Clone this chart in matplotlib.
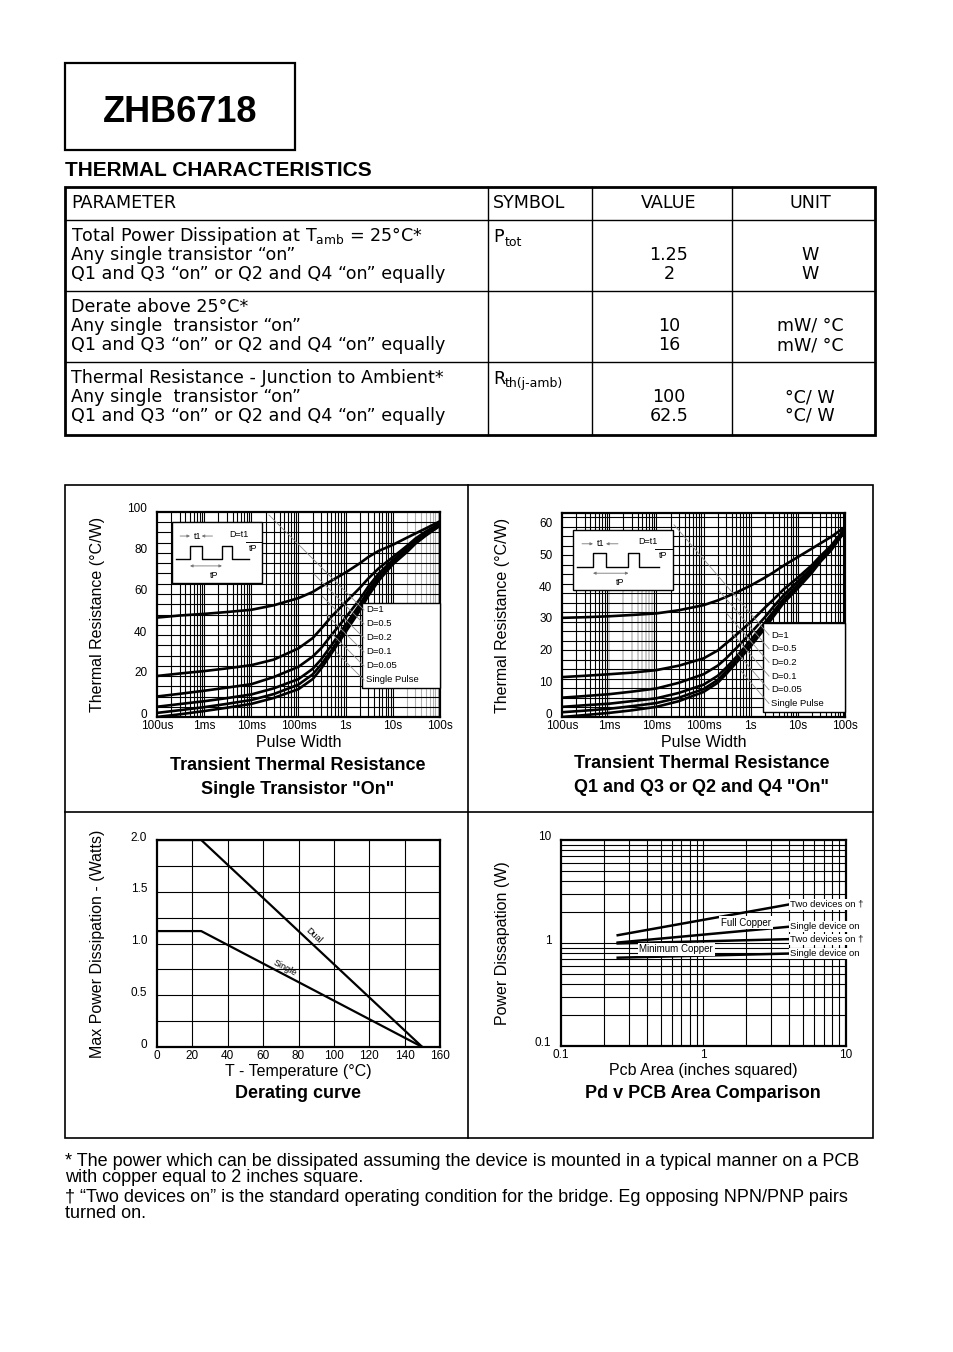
import numpy as np
import matplotlib
matplotlib.use('Agg')
import matplotlib.pyplot as plt
from matplotlib.patches import Rectangle
from matplotlib.transforms import ScaledTranslation

W, H = 954, 1352

# ---------------- table data ----------------
table_header = ['PARAMETER', 'SYMBOL', 'VALUE', 'UNIT']
param_lines = [
    ['Total Power Dissipation at T$_\\mathregular{amb}$ = 25°C*',
     'Any single transistor “on”',
     'Q1 and Q3 “on” or Q2 and Q4 “on” equally'],
    ['Derate above 25°C*',
     'Any single  transistor “on”',
     'Q1 and Q3 “on” or Q2 and Q4 “on” equally'],
    ['Thermal Resistance - Junction to Ambient*',
     'Any single  transistor “on”',
     'Q1 and Q3 “on” or Q2 and Q4 “on” equally'],
]
symbols = [('P', 'tot'), None, ('R', 'th(j-amb)')]
values = [['1.25', '2'], ['10', '16'], ['100', '62.5']]
units = [['W', 'W'], ['mW/ °C', 'mW/ °C'], ['°C/ W', '°C/ W']]

# ---------------- transient thermal resistance ----------------
pulse_width = [1e-4, 3e-4, 1e-3, 3e-3, 1e-2, 3e-2, 0.1, 0.2, 0.3, 0.5,
               1, 2, 3, 5, 10, 20, 30, 50, 100]
duty_labels = ['D=1', 'D=0.5', 'D=0.2', 'D=0.1', 'D=0.05', 'Single Pulse']

zth_single = [
    [48.5, 49.5, 50.3, 51.2, 52.3, 54.5, 58, 61, 63.5, 66.5, 70.5, 75, 78, 81, 84, 87.5, 89.5, 92, 95.5],
    [20, 21.2, 22.4, 23.7, 25.3, 28, 33.5, 38.5, 43, 49, 56, 63, 67.5, 72.5, 78, 83.5, 87, 90.5, 94.5],
    [10, 11.3, 12.8, 14.3, 16, 19.5, 24.5, 29.5, 33.5, 40, 48.5, 57.5, 63.5, 70, 76.5, 82.5, 86, 89.5, 94],
    [5, 6.3, 7.7, 9.2, 11, 14, 18.5, 23.5, 28, 35, 45, 55, 61.5, 68.5, 75.5, 81.5, 85.5, 89, 93.7],
    [2, 3.3, 4.8, 6.4, 8.3, 11.2, 15.8, 20.8, 25.5, 32.5, 43, 53.5, 60, 67.5, 74.8, 81, 85, 88.8, 93.5],
    [0, 1.3, 2.9, 4.5, 6.4, 9.3, 13.6, 18.5, 23.5, 31, 41.5, 52, 59, 66.5, 74.5, 80.5, 84.5, 88.5, 93.3],
]
zth_dual = [
    [31.3, 31.5, 31.8, 32.2, 32.7, 33.7, 35.3, 36.8, 37.9, 39.3, 41.5, 44, 45.6, 47.8, 50.5, 53.2, 54.8, 56.8, 60],
    [12.6, 13, 13.5, 14, 14.8, 16.2, 18.5, 21, 23.2, 26, 30, 34.5, 37, 40.3, 44, 48, 50.8, 54, 59.5],
    [6.1, 6.6, 7.2, 8, 9, 10.8, 13.5, 16.2, 18.5, 21.8, 26.5, 31.5, 34.7, 38.5, 42.8, 47.2, 50.2, 53.5, 59.2],
    [3.2, 3.7, 4.2, 5, 5.9, 7.6, 10.2, 13, 15.5, 19, 24.3, 29.8, 33.2, 37.3, 41.8, 46.5, 49.6, 53, 59],
    [1.5, 2, 2.6, 3.4, 4.4, 6.1, 8.8, 11.7, 14.4, 18, 23.2, 28.7, 32.3, 36.6, 41.2, 46, 49.3, 52.8, 58.8],
    [0, 0.6, 1.3, 2.1, 3.2, 5, 7.9, 10.8, 13.5, 17.2, 22.3, 28, 31.6, 36, 40.6, 45.6, 49, 52.5, 58.7],
]
time_ticks = [1e-4, 1e-3, 1e-2, 0.1, 1, 10, 100]
time_labels = ['100us', '1ms', '10ms', '100ms', '1s', '10s', '100s']

# ---------------- derating ----------------
temp = [0, 25, 150]
pd_dual = [2.0, 2.0, 0]
pd_single = [1.12, 1.12, 0]

# ---------------- pcb area ----------------
pcb_area = [0.25, 4]
pd_two_full = [1.19, 2.37]
pd_single_full = [1.01, 1.44]
pd_two_min = [0.99, 1.09]
pd_single_min = [0.72, 0.79]
pcb_labels = ['Two devices on †', 'Single device on', 'Two devices on †', 'Single device on']

footnotes = [
    '* The power which can be dissipated assuming the device is mounted in a typical manner on a PCB',
    'with copper equal to 2 inches square.',
    '† “Two devices on” is the standard operating condition for the bridge. Eg opposing NPN/PNP pairs',
    'turned on.',
]

SANS = 'Liberation Sans'
TABLE = 'DejaVu Sans'
plt.rcParams['font.family'] = [SANS, 'DejaVu Sans']
plt.rcParams['mathtext.fontset'] = 'dejavusans'

fig = plt.figure(figsize=(W / 100, H / 100), dpi=100)

page = fig.add_axes([0, 0, 1, 1])
page.set_xlim(0, W)
page.set_ylim(H, 0)
page.axis('off')


def px_axes(x0, y0, x1, y1):
    return fig.add_axes([x0 / W, 1 - y1 / H, (x1 - x0) / W, (y1 - y0) / H])


# header
page.add_patch(Rectangle((65, 63), 230, 87, fill=False, lw=1.6, ec='black'))
page.text(180, 112, 'ZHB6718', fontsize=26, fontweight='bold', ha='center', va='center')
page.text(65, 171, 'THERMAL CHARACTERISTICS', fontsize=15, fontweight='bold',
          ha='left', va='center')

# table
tx0, tx1, ty0, ty1 = 65, 875, 187, 435
col_x = [488, 592, 732]
row_y = [220, 291, 362]
page.add_patch(Rectangle((tx0, ty0), tx1 - tx0, ty1 - ty0, fill=False, lw=2, ec='black'))
for cx in col_x:
    page.plot([cx, cx], [ty0, ty1], color='black', lw=1)
for ry in row_y:
    page.plot([tx0, tx1], [ry, ry], color='black', lw=1)

tfs = 12.6
page.text(71, 203, table_header[0], fontsize=tfs, family=TABLE, va='center')
page.text(493, 203, table_header[1], fontsize=tfs, family=TABLE, va='center')
page.text(669, 203, table_header[2], fontsize=tfs, family=TABLE, va='center', ha='center')
page.text(810, 203, table_header[3], fontsize=tfs, family=TABLE, va='center', ha='center')
for i in range(3):
    top = row_y[i]
    for j, line in enumerate(param_lines[i]):
        page.text(71, top + 16 + 19 * j, line, fontsize=tfs, family=TABLE, va='center')
    if symbols[i]:
        big, sub = symbols[i]
        page.text(493, top + 17, big, fontsize=tfs, family=TABLE, va='center')
        page.text(505, top + 22, sub, fontsize=9, family=TABLE, va='center')
    for j in range(2):
        page.text(669, top + 35 + 19 * j, values[i][j], fontsize=tfs, family=TABLE,
                  va='center', ha='center')
        page.text(810, top + 35 + 19 * j, units[i][j], fontsize=tfs, family=TABLE,
                  va='center', ha='center')

# chart panel frame
page.add_patch(Rectangle((65, 485), 808, 653, fill=False, lw=1.2, ec='black'))
page.plot([468, 468], [485, 1138], color='black', lw=1.2)
page.plot([65, 873], [812, 812], color='black', lw=1.2)

# footnotes
for txt, yy in zip(footnotes, [1161, 1177, 1198, 1214]):
    page.text(65, yy, txt, fontsize=13, va='center')


def style_axes(ax):
    for s in ax.spines.values():
        s.set_linewidth(1.6)
        s.set_zorder(5)
    ax.tick_params(which='both', length=0, labelsize=8.5, pad=2)
    ax.tick_params(axis='y', pad=7)
    for lab in ax.get_yticklabels():
        lab.set_transform(lab.get_transform() + ScaledTranslation(0, 4 / 100, fig.dpi_scale_trans))


def log_lines(lo, hi):
    out = []
    for e in range(lo, hi):
        for m in range(2, 10):
            out.append(m * 10.0 ** e)
        if e > lo:
            out.append(10.0 ** e)
    return out


def transient_chart(box, curves, ymax, ystep, yticks, grey_from, grey_band=None):
    ax = px_axes(*box)
    ax.set_xscale('log')
    ax.set_xlim(1e-4, 100)
    ax.set_ylim(0, ymax)
    for v in log_lines(-4, 2):
        if v > grey_from:
            ax.axvline(v, color='#b0b0b0', lw=0.8, zorder=1)
        elif grey_band and grey_band[0] <= v <= grey_band[1]:
            ax.plot([v, v], [0, grey_band[2]], color='#c4c4c4', lw=1.2, zorder=1)
            ax.plot([v, v], [grey_band[2], ymax], color='black', lw=0.8, zorder=1)
        else:
            ax.axvline(v, color='black', lw=0.8, zorder=1)
    for h in np.arange(ystep, ymax, ystep):
        ax.axhline(h, color='black', lw=0.8, zorder=1)
    for ys in curves:
        ax.plot(pulse_width, ys, color='black', lw=1.9, zorder=3)
    ax.set_xticks(time_ticks)
    ax.set_xticklabels(time_labels)
    ax.set_yticks(yticks)
    ax.set_yticklabels([str(t) for t in yticks])
    ax.minorticks_off()
    style_axes(ax)
    ax.set_ylabel('Thermal Resistance (°C/W)', fontsize=11.5)
    ax.yaxis.set_label_coords(-0.212, 0.5)
    ax.yaxis.label.set_va('center')
    ax.set_xlabel('Pulse Width', fontsize=11.5)
    ax.xaxis.set_label_coords(0.5, -0.125)
    ax.xaxis.label.set_va('center')
    return ax


ax1 = transient_chart((157, 512, 440, 717), zth_single, 100, 5, [0, 20, 40, 60, 80, 100], 15)
ax2 = transient_chart((562, 513, 845, 717), zth_dual, 64.4, 3, [0, 10, 20, 30, 40, 50, 60], 1e3,
                      grey_band=(1e-3, 9e-3, 40))

# derating curve
ax3 = px_axes(157, 840, 440, 1047)
ax3.set_xlim(0, 160)
ax3.set_ylim(0, 2.0)
for v in range(20, 160, 20):
    ax3.axvline(v, color='black', lw=0.8, zorder=1)
for h in np.arange(0.25, 2.0, 0.25):
    ax3.axhline(h, color='black', lw=0.8, zorder=1)
ax3.plot(temp, pd_dual, color='black', lw=1.6, zorder=3)
ax3.plot(temp, pd_single, color='black', lw=1.6, zorder=3)
ax3.set_xticks(range(0, 161, 20))
ax3.set_yticks([0, 0.5, 1.0, 1.5, 2.0])
ax3.set_yticklabels(['0', '0.5', '1.0', '1.5', '2.0'])
style_axes(ax3)
ax3.text(88.5, 1.08, 'Dual', fontsize=6.5, rotation=-43, ha='center', va='center', zorder=4)
ax3.text(72.5, 0.76, 'Single', fontsize=6.5, rotation=-28, ha='center', va='center', zorder=4)
ax3.set_ylabel('Max Power Dissipation - (Watts)', fontsize=11.5)
ax3.yaxis.set_label_coords(-0.212, 0.5)
ax3.yaxis.label.set_va('center')
ax3.set_xlabel('T - Temperature (°C)', fontsize=11.5)
ax3.xaxis.set_label_coords(0.5, -0.116)
ax3.xaxis.label.set_va('center')

# pd v pcb area
ax4 = px_axes(561, 840, 846, 1046)
ax4.set_xscale('log')
ax4.set_yscale('log')
ax4.set_xlim(0.1, 10)
ax4.set_ylim(0.1, 10)
for v in log_lines(-1, 1):
    ax4.axvline(v, color='black', lw=0.8, zorder=1)
    ax4.axhline(v, color='black', lw=0.8, zorder=1)
for ys in [pd_two_full, pd_single_full, pd_two_min, pd_single_min]:
    ax4.plot(pcb_area, ys, color='black', lw=1.8, zorder=3)
for lab, ys in zip(pcb_labels, [pd_two_full, pd_single_full, pd_two_min, pd_single_min]):
    ax4.text(4.05, ys[-1], lab, fontsize=6.8, ha='left', va='center', zorder=6, clip_on=False,
             bbox=dict(boxstyle='square,pad=0.12', fc='white', ec='none'))
ax4.text(2.0, 1.58, 'Full Copper', fontsize=7, ha='center', va='center', zorder=4,
         bbox=dict(boxstyle='square,pad=0.2', fc='white', ec='none'))
ax4.text(0.645, 0.865, 'Minimum Copper', fontsize=7, ha='center', va='center', zorder=4,
         bbox=dict(boxstyle='square,pad=0.2', fc='white', ec='none'))
ax4.set_xticks([0.1, 1, 10])
ax4.set_xticklabels(['0.1', '1', '10'])
ax4.set_yticks([0.1, 1, 10])
ax4.set_yticklabels(['0.1', '1', '10'])
ax4.minorticks_off()
style_axes(ax4)
ax4.set_ylabel('Power Dissapation (W)', fontsize=11.5)
ax4.yaxis.set_label_coords(-0.207, 0.5)
ax4.yaxis.label.set_va('center')
ax4.set_xlabel('Pcb Area (inches squared)', fontsize=11.5)
ax4.xaxis.set_label_coords(0.5, -0.121)
ax4.xaxis.label.set_va('center')

# overlay for inset boxes and titles
over = fig.add_axes([0, 0, 1, 1])
over.set_xlim(0, W)
over.set_ylim(H, 0)
over.axis('off')


def pulse_box(x0, y0, x1, y1):
    over.add_patch(Rectangle((x0, y0), x1 - x0, y1 - y0, fc='white', ec='black', lw=1, zorder=2))

    def P(u, v):
        return x0 + u * (x1 - x0), y1 - v * (y1 - y0)
    wave = [(0.045, 0.39), (0.2, 0.39), (0.2, 0.61), (0.33, 0.61), (0.33, 0.39),
            (0.555, 0.39), (0.555, 0.61), (0.665, 0.61), (0.665, 0.39), (0.86, 0.39)]
    xs, ys = zip(*[P(u, v) for u, v in wave])
    over.plot(xs, ys, color='black', lw=1, zorder=3)
    g = '#777777'
    for a, b in [((0.09, 0.77), (0.2, 0.77)), ((0.45, 0.77), (0.33, 0.77))]:
        over.annotate('', xy=P(*b), xytext=P(*a), zorder=3,
                      arrowprops=dict(arrowstyle='-|>', color=g, lw=0.6, shrinkA=0, shrinkB=0,
                                      mutation_scale=4))
    over.annotate('', xy=P(0.555, 0.28), xytext=P(0.2, 0.28), zorder=3,
                  arrowprops=dict(arrowstyle='<|-|>', color=g, lw=0.6, shrinkA=0, shrinkB=0,
                                  mutation_scale=4))
    over.text(*P(0.28, 0.77), 't1', fontsize=6.5, ha='center', va='center', zorder=3)
    over.text(*P(0.745, 0.8), 'D=t1', fontsize=6.5, ha='center', va='center', zorder=3)
    xa, ya = P(0.82, 0.68)
    xb, _ = P(1.0, 0.68)
    over.plot([xa, xb], [ya, ya], color='black', lw=0.7, zorder=3)
    over.text(*P(0.9, 0.57), 'tP', fontsize=6.5, ha='center', va='center', zorder=3)
    over.text(*P(0.47, 0.13), 'tP', fontsize=6.5, ha='center', va='center', zorder=3)


def duty_legend(x0, y0, x1, y1, lx, ly0, step, lead, slope):
    over.add_patch(Rectangle((x0, y0), x1 - x0, y1 - y0, fc='white', ec='black', lw=1, zorder=2))
    for i, lab in enumerate(duty_labels):
        ly = ly0 + i * step
        over.plot([lx - 2 - lead[i], lx - 2], [ly - lead[i] * slope, ly], color='#8c8c8c',
                  lw=0.6, zorder=3)
        over.text(lx, ly, lab, fontsize=6.8, ha='left', va='center', zorder=3)


pulse_box(172, 522, 262, 583)
pulse_box(573, 530, 673, 590)
duty_legend(362, 603, 440, 688, 366, 610, 14, [95, 50, 42, 38, 32, 28], 1.0)
duty_legend(763, 623, 845, 712, 771, 635, 13.7, [95, 50, 42, 38, 32, 28], 1.16)

tt = dict(fontsize=13, fontweight='bold', ha='center', va='center')
over.text(298, 765, 'Transient Thermal Resistance', **tt)
over.text(298, 789, 'Single Transistor "On"', **tt)
over.text(702, 764, 'Transient Thermal Resistance', **tt)
over.text(702, 788, 'Q1 and Q3 or Q2 and Q4 "On"', **tt)
over.text(298, 1093, 'Derating curve', **tt)
over.text(703, 1093, 'Pd v PCB Area Comparison', **tt)

fig.savefig('out.png', dpi=100)
